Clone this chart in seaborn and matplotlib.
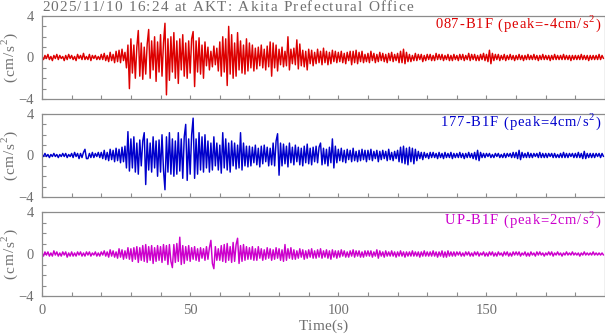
import numpy as np
import pandas as pd
import matplotlib
matplotlib.use("Agg")
import matplotlib.pyplot as plt
from matplotlib.ticker import MultipleLocator
from matplotlib.font_manager import FontProperties
import seaborn as sns

# Acceleration records (cm/s^2), one sample every 0.5 s
DT = 0.5
TITLE = "2025/11/10 16:24 at AKT: Akita Prefectural Office"
XLABEL = "Time(s)"
YLABEL = "(cm/s\u00b2)"

acc_087 = [
    0.1,-0.2,0.2,-0.1,0.3,-0.2,0.1,-0.3,0.2,-0.1,0.3,-0.2,0.2,-0.1,0.1,-0.3,0.2,-0.2,0.3,-0.1,
    0.2,-0.2,0.1,-0.3,0.3,-0.1,0.2,-0.2,0.4,-0.2,0.1,-0.2,0.3,-0.3,0.2,-0.1,0.2,-0.2,0.1,-0.2,
    0.3,-0.2,0.4,-0.3,0.2,-0.4,0.5,-0.3,0.3,-0.5,0.6,-0.4,0.7,-0.5,0.8,-0.3,0.5,-1.0,1.2,-3.0,
    1.8,-1.5,1.2,-2.0,1.0,2.6,-1.8,1.4,-2.1,1.0,-1.6,1.3,2.7,-2.0,1.6,-1.2,2.0,-2.3,1.5,-1.4,
    2.2,-1.8,1.4,3.3,-3.6,1.8,-2.2,2.0,-1.4,2.4,-2.0,1.6,-2.5,1.8,-1.2,2.2,-1.8,1.4,-2.0,1.6,
    -1.5,1.8,2.5,-2.8,1.6,-1.4,1.9,-1.6,1.2,-2.0,1.5,-0.8,1.0,-1.2,0.6,-0.9,1.1,-0.7,0.9,-1.3,
    1.5,-1.8,2.0,-1.4,1.8,-2.7,3.0,-1.6,2.2,-2.0,1.4,-1.8,2.4,-1.2,1.6,-1.5,1.2,-1.6,1.8,-1.3,
    1.4,-1.0,1.2,-1.3,0.9,-1.1,1.0,-0.8,1.2,-1.0,0.8,-1.2,1.1,-0.9,1.5,-1.8,1.4,-1.0,1.2,-1.3,
    0.8,-0.7,1.0,-0.9,0.6,-0.8,2.0,-1.2,0.8,-0.6,0.9,-0.7,1.7,-1.1,1.3,-0.8,0.7,-0.9,0.6,-1.2,
    0.8,-0.6,0.7,-0.8,0.5,-0.6,0.8,-0.5,0.6,-0.7,0.9,-0.5,0.6,-0.7,0.5,-0.6,0.7,-0.4,0.6,-0.5,
    0.5,-0.4,0.6,-0.5,0.4,-0.6,0.5,-0.3,0.6,-0.7,0.6,-0.5,0.7,-0.6,0.5,-0.4,0.6,-0.5,0.3,-0.4,
    0.4,-0.5,0.6,-0.3,0.4,-0.5,0.3,-0.4,0.5,-0.3,0.4,-0.4,0.3,-0.5,0.4,-0.3,0.5,-0.4,0.3,-0.3,
    0.4,-0.5,0.6,-0.5,0.8,-0.6,0.5,-0.4,0.3,-0.4,0.2,-0.3,0.4,-0.3,0.3,-0.2,0.3,-0.4,0.2,-0.3,
    0.3,-0.2,0.3,-0.3,0.2,-0.3,0.4,-0.2,0.3,-0.2,0.3,-0.3,0.2,-0.2,0.3,-0.3,0.2,-0.3,0.3,-0.2,
    0.2,-0.3,0.3,-0.2,0.3,-0.3,0.2,-0.2,0.4,-0.3,0.3,-0.2,0.3,-0.3,0.2,-0.3,0.3,-0.2,0.4,-0.3,
    0.3,-0.4,0.7,-0.6,0.4,-0.3,0.3,-0.2,0.3,-0.3,0.2,-0.2,0.3,-0.3,0.2,-0.2,0.3,-0.2,0.2,-0.3,
    0.2,-0.2,0.3,-0.2,0.2,-0.3,0.2,-0.2,0.3,-0.2,0.2,-0.2,0.3,-0.2,0.2,-0.3,0.2,-0.2,0.3,-0.2,
    0.2,-0.2,0.2,-0.3,0.2,-0.2,0.3,-0.2,0.2,-0.2,0.2,-0.2,0.3,-0.2,0.2,-0.2,0.2,-0.3,0.2,-0.2,
    0.2,-0.2,0.2,-0.2,0.3,-0.2,0.2,-0.2,0.2,-0.3,0.2,-0.2,0.2,-0.2,0.2,-0.2,0.3,-0.2,0.2,-0.1,
]

acc_177 = [
    0.1,-0.1,0.2,-0.1,0.1,-0.2,0.1,-0.1,0.2,-0.1,0.1,-0.2,0.1,-0.1,0.2,-0.1,0.2,-0.2,0.1,-0.1,
    0.2,-0.2,0.3,-0.1,0.2,-0.3,0.2,-0.2,0.3,0.6,-0.3,-0.3,0.2,-0.2,0.3,-0.2,0.2,-0.1,0.3,-0.2,
    0.3,-0.3,0.5,-0.4,0.3,-0.5,0.6,-0.4,0.5,-0.6,0.7,-0.5,0.6,-0.7,0.8,-0.6,0.9,-1.2,2.3,-1.5,
    1.6,-1.2,1.8,-1.6,1.2,-1.8,1.5,-1.0,1.4,2.2,-2.8,1.6,-1.4,1.2,-1.6,1.8,-1.2,1.4,-2.0,1.5,
    -1.6,2.0,-1.4,-3.3,1.8,-1.6,2.2,-1.8,1.6,-2.0,1.4,-1.8,2.2,-1.5,1.6,-2.2,1.8,3.0,-2.4,1.6,
    -1.8,2.0,3.6,-2.2,1.6,-1.8,2.2,-1.4,1.8,-1.6,2.0,-1.2,1.4,-1.6,1.2,-1.4,1.8,-1.0,1.2,-1.4,
    1.0,-1.7,2.2,-1.2,1.6,-1.4,1.2,-1.6,1.4,-1.0,1.2,-1.3,1.0,-1.2,2.2,-1.4,1.2,-1.0,0.9,-1.1,
    0.9,-1.0,0.8,-0.7,1.0,-0.9,0.7,-1.1,0.9,-0.8,1.0,-0.6,0.8,-1.0,0.7,-0.9,1.2,-1.0,1.4,2.1,
    -1.9,1.2,-1.0,1.1,-0.8,0.9,-1.1,1.2,-0.7,0.8,-0.9,1.0,-0.6,0.8,-0.9,0.7,-1.0,0.9,-0.7,1.1,
    -0.8,0.7,-0.9,0.8,-0.6,0.9,-0.7,0.8,1.2,-0.9,0.7,-0.8,0.6,-1.0,0.8,-0.7,1.6,-1.2,0.9,-0.7,
    0.6,-0.5,0.7,-0.6,0.5,-0.7,0.6,-0.4,0.5,-0.6,0.7,-0.5,0.4,-0.6,0.5,-0.5,0.6,-0.4,0.5,-0.6,
    0.5,-0.4,0.6,-0.5,0.4,-0.3,0.5,-0.6,0.4,-0.4,0.5,-0.3,0.4,-0.5,0.6,-0.4,0.3,-0.5,0.4,-0.3,
    0.5,-0.6,0.8,-0.7,0.9,-0.8,0.7,-0.9,0.8,-0.6,0.7,-0.8,0.6,-0.5,0.4,-0.3,0.3,-0.4,0.3,-0.2,
    0.2,-0.3,0.3,-0.2,0.3,-0.2,0.2,-0.3,0.3,-0.2,0.2,-0.3,0.3,-0.2,0.2,-0.2,0.3,-0.3,0.2,-0.2,
    0.2,-0.2,0.3,-0.2,0.2,-0.3,0.2,-0.2,0.3,-0.2,0.2,-0.3,0.3,-0.4,0.5,-0.5,0.3,-0.2,0.2,-0.2,
    0.2,-0.1,0.2,-0.2,0.1,-0.2,0.2,-0.1,0.2,-0.2,0.1,-0.2,0.2,-0.2,0.2,-0.1,0.2,-0.2,0.3,-0.2,
    0.3,-0.3,0.5,-0.4,0.3,-0.2,0.2,-0.2,0.3,-0.2,0.2,-0.2,0.2,-0.1,0.2,-0.2,0.3,-0.2,0.2,-0.2,
    0.2,-0.2,0.2,-0.1,0.2,-0.2,0.2,-0.2,0.1,-0.2,0.2,-0.2,0.3,-0.2,0.2,-0.2,0.2,-0.1,0.2,-0.2,
    0.2,-0.2,0.3,-0.2,0.2,-0.3,0.4,-0.3,0.2,-0.2,0.2,-0.2,0.2,-0.2,0.2,-0.1,0.2,-0.2,0.2,-0.1,
]

acc_up = [
    0.1,-0.2,0.2,-0.1,0.2,-0.2,0.1,-0.2,0.3,-0.1,0.2,-0.2,0.1,-0.2,0.2,-0.1,0.2,-0.3,0.1,-0.2,
    0.2,-0.2,0.1,-0.2,0.2,-0.1,0.2,-0.2,0.1,-0.2,0.2,-0.1,0.2,-0.2,0.1,-0.1,0.2,-0.2,0.1,-0.2,
    0.2,-0.1,0.3,-0.2,0.2,-0.3,0.4,-0.2,0.3,-0.3,0.2,-0.4,0.5,-0.3,0.4,-0.5,0.3,-0.4,0.6,-0.5,
    0.5,-0.7,0.6,-0.5,0.7,-0.8,0.6,-0.6,0.8,-0.7,0.9,-0.8,0.7,-0.6,0.8,-0.9,0.6,-0.7,0.8,-0.6,
    0.7,-0.8,0.9,-0.6,0.8,-1.0,0.9,-0.7,-1.3,0.9,-0.8,1.0,-0.7,1.6,-1.0,0.8,-0.9,0.7,-0.6,0.8,
    -0.7,0.6,-0.5,0.7,-0.6,0.5,-0.7,0.6,-0.4,0.5,-0.6,0.7,-0.5,0.6,1.3,-0.9,-1.4,0.7,-0.6,0.5,
    -0.6,0.8,-0.7,0.9,-0.8,1.0,-0.6,0.7,-0.8,1.1,-0.7,0.9,1.5,-0.9,0.8,-0.7,0.9,-0.6,0.7,-0.5,
    0.6,-0.5,0.7,-0.6,0.5,-0.6,0.7,-0.4,0.5,-0.6,0.4,-0.5,0.6,-0.4,0.5,-0.6,0.4,-0.5,0.6,-0.4,
    0.5,-0.6,0.4,-0.7,0.9,-0.6,0.5,-0.4,0.6,-0.5,0.4,-0.5,0.3,-0.4,0.5,-0.3,0.4,-0.5,0.3,-0.4,
    0.4,-0.3,0.5,-0.4,0.3,-0.4,0.4,-0.3,0.5,-0.4,0.3,-0.3,0.4,-0.4,0.3,-0.5,0.4,-0.3,0.3,-0.4,
    0.3,-0.3,0.4,-0.2,0.3,-0.3,0.2,-0.3,0.3,-0.2,0.4,-0.3,0.3,-0.2,0.3,-0.3,0.2,-0.3,0.3,-0.2,
    0.3,-0.2,0.3,-0.3,0.2,-0.2,0.4,-0.4,0.3,-0.2,0.2,-0.3,0.3,-0.2,0.2,-0.2,0.3,-0.2,0.2,-0.3,
    0.2,-0.2,0.3,-0.2,0.2,-0.3,0.2,-0.2,0.2,-0.2,0.3,-0.2,0.2,-0.2,0.2,-0.3,0.2,-0.2,0.3,-0.2,
    0.2,-0.2,0.2,-0.2,0.3,-0.2,0.2,-0.3,0.2,-0.2,0.3,-0.3,0.2,-0.3,0.3,-0.2,0.2,-0.2,0.2,-0.2,
    0.2,-0.1,0.2,-0.2,0.1,-0.2,0.2,-0.1,0.2,-0.2,0.1,-0.2,0.2,-0.1,0.2,-0.2,0.1,-0.1,0.2,-0.2,
    0.1,-0.2,0.2,-0.1,0.2,-0.2,0.1,-0.2,0.2,-0.1,0.1,-0.2,0.2,-0.1,0.2,-0.2,0.1,-0.2,0.2,-0.1,
    0.2,-0.1,0.2,-0.2,0.1,-0.1,0.2,-0.2,0.1,-0.2,0.2,-0.1,0.1,-0.2,0.2,-0.1,0.2,-0.1,0.1,-0.2,
    0.1,-0.1,0.2,-0.1,0.2,-0.2,0.1,-0.1,0.2,-0.1,0.1,-0.2,0.1,-0.1,0.2,-0.1,0.1,-0.1,0.2,-0.1,
    0.1,-0.1,0.1,-0.2,0.1,-0.1,0.2,-0.1,0.1,-0.1,0.1,-0.1,0.2,-0.1,0.1,-0.1,0.1,-0.1,0.1,-0.1,
]

channels = ["087-B1F", "177-B1F", "UP-B1F"]
records = [acc_087, acc_177, acc_up]
colors = ["#dd0000", "#0000cc", "#cc00cc"]

X_MAJOR = [0, 50, 100, 150]
Y_MAJOR = [-4, 0, 4]

GRAY = "#707070"
FRAME = "#8c8c8c"
SERIF = ["Liberation Serif", "DejaVu Serif"]
SUP2 = "\u00b2"

sns.set_theme(style="ticks")
plt.rcParams["font.family"] = SERIF

W, H = 605.0, 334.0
fig = plt.figure(figsize=(W / 100, H / 100), dpi=100)
renderer = fig.canvas.get_renderer()


def glyph_width(ch, size):
    prop = FontProperties(family=SERIF, size=size)
    bar = renderer.get_text_width_height_descent("||", prop, ismath=False)[0]
    w = renderer.get_text_width_height_descent("|" + ch + "|", prop, ismath=False)[0]
    return w - bar


def tracked_text(s, x, y, size, color, ha="left", spacing=None, width=None,
                 vertical=False):
    """Letter-spaced text; x, y are pixel coords from the top-left corner
    of the figure (baseline position).  A superscript two is drawn as a
    raised, smaller digit."""
    sup_size = size * 0.72
    widths = [glyph_width("2", sup_size) if ch == SUP2 else glyph_width(ch, size)
              for ch in s]
    n = len(s)
    natural = sum(widths)
    if spacing is None:
        spacing = (width - natural) / max(n - 1, 1)
    total = natural + spacing * (n - 1)
    off = {"left": 0.0, "center": -total / 2, "right": -total}[ha]
    em = size * 100 / 72
    for ch, w in zip(s, widths):
        fs, raise_px, glyph = size, 0.0, ch
        if ch == SUP2:
            fs, raise_px, glyph = sup_size, 0.42 * em, "2"
        if vertical:
            px, py, rot = x - raise_px, y - off, 90
        else:
            px, py, rot = x + off, y - raise_px, 0
        fig.text(px / W, 1 - py / H, glyph, fontsize=fs, color=color,
                 family=SERIF, ha="left", va="baseline", rotation=rot,
                 rotation_mode="anchor")
        off += w + spacing
    return spacing


left_px, right_px = 42, 605
panel_px = [(16, 99), (114, 197), (212, 296)]
label_spacing = None

for i, (name, rec, col) in enumerate(zip(channels, records, colors)):
    top_px, bot_px = panel_px[i]
    ax = fig.add_axes([left_px / W, 1 - bot_px / H, (right_px - left_px) / W,
                       (bot_px - top_px) / H])
    df = pd.DataFrame({"t": np.arange(len(rec)) * DT, "acc": rec})
    sns.lineplot(data=df, x="t", y="acc", ax=ax, color=col, linewidth=1.05,
                 estimator=None, sort=False)
    ax.set_xlim(0, 190)
    ax.set_ylim(-4, 4)
    ax.set_xticks(X_MAJOR)
    ax.xaxis.set_minor_locator(MultipleLocator(10))
    ax.set_yticks(Y_MAJOR)
    ax.yaxis.set_minor_locator(MultipleLocator(1))
    ax.tick_params(which="both", direction="in", length=3, width=0.8,
                   color=FRAME, labelcolor=GRAY, labelsize=10.5, pad=6,
                   top=False, right=False)
    for sp in ax.spines.values():
        sp.set_color(FRAME)
        sp.set_linewidth(0.9)
    ax.set_xlabel("")
    ax.set_ylabel("")
    if i < 2:
        ax.set_xticklabels([])

    # channel caption with the peak value taken from the record
    arr = np.asarray(rec)
    peak = arr[np.argmax(np.abs(arr))]
    caption = f"{name} (peak={int(round(peak))}cm/s{SUP2})"
    if label_spacing is None:
        label_spacing = tracked_text(caption, 600, top_px + 12.5, 10.5, col,
                                     ha="right", width=165)
    else:
        tracked_text(caption, 600, top_px + 12.5, 10.5, col, ha="right",
                     spacing=label_spacing)

    # vertical unit label
    tracked_text(YLABEL, 14, (top_px + bot_px) / 2, 11, GRAY, ha="center",
                 width=50, vertical=True)

tracked_text(TITLE, 42, 11, 11, GRAY, ha="left", width=371)
tracked_text(XLABEL, 323, 330, 11, GRAY, ha="center", width=49)

fig.savefig("out.png", dpi=100)
